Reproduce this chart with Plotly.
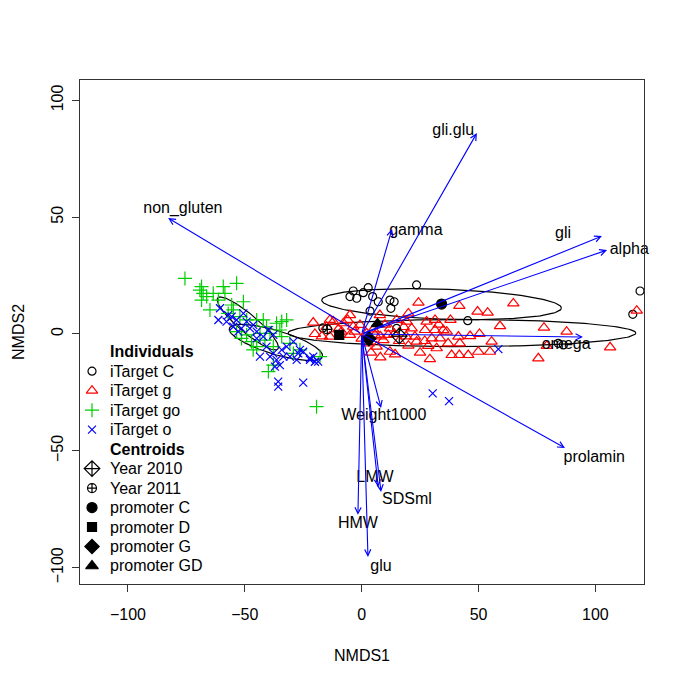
import numpy as np
import plotly.graph_objects as go

FONT = "Liberation Sans"
FS = 16

# ---------------- data ----------------
c_x = [-3.6, 2.8, -5.0, -2.1, 0.7, 4.7, 7.1, 12.1, 13.9, 12.5, 3.6, 23.5, 45.4, 15.0, 84.1, 86.3, 119.1, 116.0, -16.6]
c_y = [18.4, 19.8, 16.0, 15.3, 17.7, 16.0, 13.8, 14.5, 13.8, 11.0, 9.8, 21.0, 5.7, 2.4, -4.0, -4.7, 18.4, 8.4, 2.6]

g_x = [24.3, 41.8, 49.6, 53.9, 64.9, 20.0, 7.8, -5.0, -13.6, -20.7, -20.0, -12.1, -7.8, -3.6, -0.7, 19.3,
       27.8, 31.4, 12.1, 21.4, 27.1, 31.4, 34.9, 36.4, 22.8, 30.0, 33.5, 41.4, 46.4, 50.4, 59.2, 78.0, 87.7,
       55.6, 23.5, 28.5, 32.1, 11.4, 9.3, 6.4, 12.1, 14.3, 29.2, 38.5, 41.8, 45.6, 49.9, 54.9, 79.2, 75.6,
       106.3, 117.7, -13.6, -5.0, 5.7, -8.6, 2.1, -10.0, -6.0, -3.0, 0.0, 3.0, 5.0, 8.0, 10.0, 14.0, 16.0,
       18.0, -15.0, -17.0, 4.0, 8.0, 20.0, 25.0, 15.0, 37.0, 42.0, 19.0, 27.0, 33.0, 38.0]
g_y = [13.4, 12.0, 9.6, 9.1, 13.1, 8.8, 8.1, 8.1, 6.0, 4.9, 0.0, 5.3, 4.6, 3.1, 3.9, 5.3,
       5.3, 6.0, 2.4, 2.4, 1.7, 1.7, 1.7, 1.0, -1.1, -1.9, -1.9, -1.1, -0.9, 0.0, 3.4, 2.7, 1.0,
       -3.3, -3.3, -5.1, -6.1, -0.4, -2.6, -5.4, -7.6, -8.7, -10.8, -9.0, -9.0, -9.0, -7.6, -7.6, -5.1, -10.4,
       -5.7, 10.0, -1.1, -0.4, -0.4, 1.0, 0.3, 2.0, 6.0, 1.0, -2.0, -4.0, 2.0, -1.0, 4.0, 0.0, -3.0,
       3.0, 3.0, -1.0, -8.0, -10.0, -5.0, -8.0, 6.0, -4.0, -4.0, -1.0, -3.0, 4.0, 6.0]

go_x = [-75.6, -68.5, -67.8, -68.5, -64.9, -63.5, -59.2, -58.5, -53.5, -50.6, -55.6, -54.9, -52.1, -49.2,
        -44.9, -42.1, -40.7, -36.4, -34.2, -32.1, -53.5, -51.4, -44.9, -46.4, -49.2, -41.4, -37.8, -34.2,
        -26.4, -17.8, -39.9, -37.8, -19.3, -69.2, -66.3, -61.3, -57.1, -43.5, -39.2, -35.0, -30.7, -29.2, -47.1]
go_y = [23.8, 20.3, 17.4, 14.5, 10.3, 17.4, 20.3, 17.4, 21.7, 13.8, 12.4, 10.3, 7.4, 6.0,
        6.0, 6.0, 3.1, 4.6, 5.3, 6.0, 1.0, -1.9, -5.4, -6.8, -0.4, -2.6, -5.4, -1.1,
        -6.8, -9.7, -16.1, -13.3, -31.1, 18.8, 16.0, 14.5, 8.8, 0.3, 0.3, 1.7, -4.0, -8.3, -3.3]

o_x = [-60.6, -61.3, -57.8, -55.6, -53.5, -50.6, -49.2, -54.9, -51.4, -46.4, -44.9, -42.1, -39.9, -37.8,
       -40.7, -39.2, -36.4, -37.8, -34.2, -32.1, -29.2, -26.4, -25.0, -22.1, -18.6, -30.7, -35.0, -37.1,
       -35.7, -35.7, -25.0, -27.8, -43.5, -47.8, -44.9, -52.8, -57.1, -33.5, -27.1, -20.7, 30.4, 37.4,
       58.5, -22.1, -20.0]
o_y = [11.0, 6.0, 5.3, 7.4, 6.0, 8.8, 5.3, 3.1, 2.4, 3.9, 1.0, -1.1, 1.7, -0.4,
       -5.4, -9.7, -11.1, -8.3, -6.8, -5.4, -3.3, -6.8, -7.6, -10.4, -11.8, -9.7, -13.3, -14.0,
       -20.4, -22.5, -20.8, -11.1, -9.7, 2.4, -1.9, 1.0, 8.1, -9.7, -8.3, -9.7, -25.4, -28.7,
       -6.5, -11.1, -11.9]

# centroids
year_names = ["Year 2010", "Year 2011"]
year_x = [16.1, -14.7]
year_y = [-0.9, 2.0]
prom_names = ["promoter C", "promoter D", "promoter G", "promoter GD"]
prom_x = [34.2, -9.6, 3.1, 6.8]
prom_y = [12.8, -0.4, -2.0, 4.3]

# ellipses (center x, center y, semi-major, semi-minor, angle deg)
ell_cx = [34.2, 42.9, -48.7, -36.7]
ell_cy = [12.8, 0.4, 4.5, -3.6]
ell_a = [51.3, 74.4, 16.9, 20.8]
ell_b = [6.4, 5.8, 3.9, 5.1]
ell_ang = [-1.9, 0.0, -40.4, -16.8]

# environmental vectors
vec_names = ["gli.glu", "non_gluten", "gamma", "gli", "alpha", "omega", "prolamin",
             "Weight1000", "LMW", "SDSml", "HMW", "glu"]
vec_x = [49.3, -82.8, 13.0, 102.8, 105.0, 94.7, 87.0, 8.3, 7.1, 8.3, -1.6, 2.7]
vec_y = [86.0, 49.6, 44.9, 41.9, 35.9, -1.3, -48.8, -31.7, -65.5, -67.6, -77.4, -95.4]
lab_x = [39.2, -76.5, 23.2, 86.2, 114.5, 87.5, 99.5, 9.5, 5.7, 19.4, -1.6, 8.3]
lab_y = [86.9, 53.5, 44.1, 42.8, 35.9, -4.7, -53.0, -35.1, -61.6, -71.0, -81.3, -99.7]

x_ticks = [-100, -50, 0, 50, 100]
y_ticks = [-100, -50, 0, 50, 100]

# legend entries (label, bold title?)
legend_labels = ["Individuals", "iTarget C", "iTarget g", "iTarget go", "iTarget o",
                 "Centroids", "Year 2010", "Year 2011", "promoter C", "promoter D", "promoter G", "promoter GD"]
legend_is_title = [True, False, False, False, False, True, False, False, False, False, False, False]

RED = "#FF0000"
GREEN = "#00CD00"
BLUE = "#0000FF"

# styles keyed by legend label
STYLE = {
    "iTarget C": ("circle-open", "black", 8),
    "iTarget g": ("triangle-up-open", RED, 10),
    "iTarget go": ("cross-thin-open", GREEN, 10),
    "iTarget o": ("x-thin-open", BLUE, 8),
    "Year 2010": ("diamond-cross-open", "black", 12),
    "Year 2011": ("circle-cross-open", "black", 9),
    "promoter C": ("circle", "black", 10),
    "promoter D": ("square", "black", 9),
    "promoter G": ("diamond", "black", 11),
    "promoter GD": ("triangle-up", "black", 11),
}


def mk(label):
    sym, col, sz = STYLE[label]
    return dict(symbol=sym, color=col, size=sz, line=dict(color=col, width=1.2))


fig = go.Figure()

# ellipses
t = np.linspace(0, 2 * np.pi, 200)
for cx, cy, a, b, ang in zip(ell_cx, ell_cy, ell_a, ell_b, ell_ang):
    th = np.deg2rad(ang)
    ex = cx + a * np.cos(t) * np.cos(th) - b * np.sin(t) * np.sin(th)
    ey = cy + a * np.cos(t) * np.sin(th) + b * np.sin(t) * np.cos(th)
    fig.add_trace(go.Scatter(x=ex, y=ey, mode="lines", line=dict(color="black", width=1.2),
                             showlegend=False, hoverinfo="skip"))

# individuals
for name, xs, ys in [("iTarget C", c_x, c_y), ("iTarget g", g_x, g_y),
                     ("iTarget go", go_x, go_y), ("iTarget o", o_x, o_y)]:
    fig.add_trace(go.Scatter(x=xs, y=ys, mode="markers", name=name, marker=mk(name), showlegend=False))

# centroids
for name, xv, yv in zip(year_names + prom_names, year_x + prom_x, year_y + prom_y):
    fig.add_trace(go.Scatter(x=[xv], y=[yv], mode="markers", name=name, marker=mk(name), showlegend=False))

# vector labels
fig.add_trace(go.Scatter(x=lab_x, y=lab_y, mode="text", text=vec_names, cliponaxis=False,
                         textfont=dict(family=FONT, size=FS, color="black"),
                         showlegend=False, hoverinfo="skip"))

# arrows
for xv, yv in zip(vec_x, vec_y):
    fig.add_annotation(x=xv, y=yv, ax=0, ay=0, xref="x", yref="y", axref="x", ayref="y",
                       showarrow=True, arrowhead=5, arrowsize=1.1, arrowwidth=1.1,
                       arrowcolor=BLUE, text="")

# manual legend (R style) in plot-area fractions
LEG_SYM_X = 0.0213
LEG_TXT_X = 0.0496
LEG_TOP = 0.4609
LEG_STEP = 0.03865
for k, (lab, is_title) in enumerate(zip(legend_labels, legend_is_title)):
    yk = LEG_TOP - k * LEG_STEP
    fig.add_annotation(text=f"<b>{lab}</b>" if is_title else lab, x=LEG_TXT_X, y=yk,
                       xref="paper", yref="paper", xanchor="left", yanchor="middle",
                       showarrow=False, font=dict(family=FONT, size=FS, color="black"))
    if not is_title:
        fig.add_trace(go.Scatter(x=[LEG_SYM_X], y=[yk], mode="markers", marker=mk(lab),
                                 xaxis="x2", yaxis="y2", showlegend=False, hoverinfo="skip"))

# axis titles
fig.add_annotation(text="NMDS1", x=0.5, y=-0.141, xref="paper", yref="paper", showarrow=False,
                   font=dict(family=FONT, size=FS), yanchor="middle")
fig.add_annotation(text="NMDS2", x=-0.11, y=0.5, xref="paper", yref="paper", showarrow=False,
                   font=dict(family=FONT, size=FS), textangle=-90, xanchor="center")

axis_common = dict(showgrid=False, zeroline=False, showline=True, linecolor="#333333", linewidth=1,
                   mirror=True, ticks="outside", ticklen=7, tickcolor="#333333",
                   tickfont=dict(family=FONT, size=FS, color="black"))
fig.update_layout(
    xaxis=dict(range=[-120.5, 120.8], tickvals=x_ticks,
               ticktext=[str(v).replace("-", "\u2212") for v in x_ticks], ticklabelstandoff=9, **axis_common),
    yaxis=dict(range=[-107.0, 108.7], tickvals=y_ticks,
               ticktext=[str(v).replace("-", "\u2212") for v in y_ticks], tickangle=-90,
               ticklabelstandoff=3, **axis_common),
    xaxis2=dict(range=[0, 1], overlaying="x", visible=False, fixedrange=True),
    yaxis2=dict(range=[0, 1], overlaying="y", visible=False, fixedrange=True),
    width=677, height=677,
    margin=dict(l=72, r=41, t=72, b=101, autoexpand=False),
    plot_bgcolor="white", paper_bgcolor="white",
    font=dict(family=FONT, size=FS, color="black"),
    showlegend=False,
)

fig.write_html("out.html")
